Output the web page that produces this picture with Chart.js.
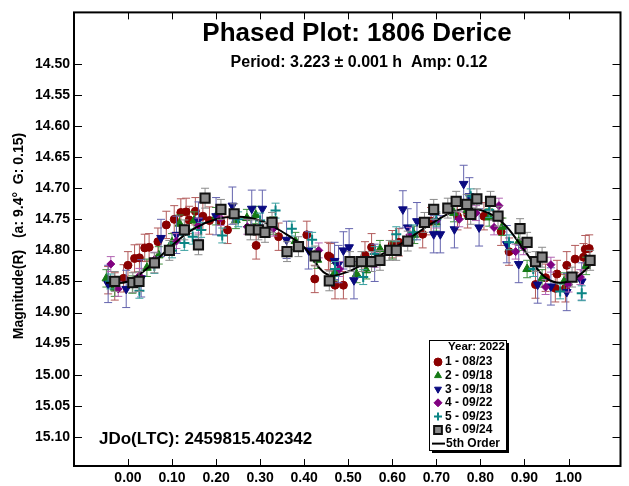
<!DOCTYPE html>
<html>
<head>
<meta charset="utf-8">
<script src="https://cdn.jsdelivr.net/npm/chart.js@4/dist/chart.umd.min.js"></script>
<style>
  html, body { margin: 0; padding: 0; background: #fff; }
  #wrap { width: 629px; height: 486px; }
</style>
</head>
<body>
<div id="wrap"><canvas id="phase"></canvas></div>
<script>
// night 1 - 08/23
const n1Phase = [-0.045, -0.030, -0.010, 0.000, 0.015, 0.026, 0.038, 0.048, 0.068, 0.087, 0.105, 0.120, 0.132, 0.139, 0.153, 0.170, 0.185, 0.211, 0.226, 0.291, 0.342, 0.406, 0.424, 0.455, 0.459, 0.470, 0.489, 0.538, 0.553, 0.600, 0.615, 0.669, 0.688, 0.748, 0.771, 0.808, 0.847, 0.865, 0.925, 0.948, 0.970, 0.974, 0.993, 0.996, 1.015, 1.034, 1.038, 1.047];
const n1Mag = [14.848, 14.858, 14.845, 14.824, 14.813, 14.812, 14.796, 14.795, 14.786, 14.759, 14.750, 14.739, 14.738, 14.751, 14.737, 14.745, 14.752, 14.754, 14.767, 14.792, 14.778, 14.775, 14.846, 14.809, 14.811, 14.856, 14.856, 14.808, 14.795, 14.790, 14.787, 14.774, 14.753, 14.745, 14.742, 14.745, 14.770, 14.802, 14.855, 14.844, 14.861, 14.838, 14.861, 14.824, 14.814, 14.811, 14.798, 14.797];
// night 2 - 09/18
const n2Phase = [-0.049, -0.030, 0.010, 0.043, 0.070, 0.100, 0.117, 0.150, 0.200, 0.245, 0.270, 0.290, 0.330, 0.380, 0.430, 0.470, 0.519, 0.541, 0.572, 0.600, 0.650, 0.700, 0.740, 0.770, 0.820, 0.850, 0.887, 0.906, 0.940, 0.990, 1.040];
const n2Mag = [14.845, 14.860, 14.855, 14.828, 14.808, 14.787, 14.757, 14.752, 14.745, 14.751, 14.748, 14.743, 14.760, 14.785, 14.815, 14.835, 14.838, 14.832, 14.798, 14.800, 14.775, 14.755, 14.740, 14.735, 14.747, 14.762, 14.786, 14.830, 14.845, 14.850, 14.825];
// night 3 - 09/18
const n3Phase = [-0.045, -0.004, 0.030, 0.075, 0.110, 0.160, 0.200, 0.237, 0.281, 0.305, 0.360, 0.410, 0.469, 0.478, 0.489, 0.502, 0.513, 0.560, 0.624, 0.635, 0.656, 0.694, 0.709, 0.741, 0.762, 0.775, 0.797, 0.860, 0.887, 0.930, 0.960, 0.996, 1.030];
const n3Mag = [14.854, 14.862, 14.845, 14.780, 14.775, 14.752, 14.745, 14.728, 14.733, 14.733, 14.783, 14.800, 14.817, 14.822, 14.800, 14.795, 14.848, 14.820, 14.734, 14.763, 14.753, 14.774, 14.774, 14.766, 14.693, 14.713, 14.763, 14.790, 14.822, 14.855, 14.858, 14.867, 14.850];
// night 4 - 09/22
const n4Phase = [-0.039, -0.022, 0.026, 0.060, 0.110, 0.160, 0.210, 0.271, 0.330, 0.433, 0.480, 0.560, 0.640, 0.700, 0.752, 0.790, 0.831, 0.842, 0.880, 0.898, 0.948, 0.960, 1.000, 1.027];
const n4Mag = [14.822, 14.862, 14.841, 14.815, 14.785, 14.760, 14.748, 14.762, 14.765, 14.800, 14.830, 14.815, 14.775, 14.752, 14.750, 14.740, 14.763, 14.728, 14.802, 14.795, 14.859, 14.823, 14.855, 14.843];
// night 5 - 09/23
const n5Phase = [-0.040, 0.026, 0.060, 0.100, 0.128, 0.147, 0.166, 0.214, 0.250, 0.300, 0.335, 0.372, 0.418, 0.470, 0.534, 0.560, 0.609, 0.647, 0.700, 0.778, 0.820, 0.865, 0.920, 0.981, 1.030];
const n5Mag = [14.850, 14.865, 14.825, 14.800, 14.788, 14.778, 14.767, 14.776, 14.750, 14.752, 14.736, 14.765, 14.783, 14.830, 14.843, 14.806, 14.774, 14.771, 14.750, 14.713, 14.735, 14.787, 14.830, 14.866, 14.869];
// night 6 - 09/24
const n6Phase = [-0.030, 0.011, 0.025, 0.060, 0.094, 0.128, 0.160, 0.175, 0.211, 0.241, 0.278, 0.296, 0.311, 0.327, 0.361, 0.387, 0.425, 0.457, 0.504, 0.530, 0.553, 0.572, 0.594, 0.609, 0.635, 0.673, 0.694, 0.726, 0.745, 0.769, 0.778, 0.792, 0.823, 0.840, 0.890, 0.906, 0.925, 0.940, 1.008, 1.049];
const n6Mag = [14.850, 14.852, 14.850, 14.820, 14.800, 14.767, 14.791, 14.716, 14.734, 14.741, 14.767, 14.767, 14.771, 14.755, 14.802, 14.794, 14.809, 14.849, 14.818, 14.818, 14.818, 14.816, 14.800, 14.800, 14.785, 14.755, 14.734, 14.732, 14.721, 14.726, 14.742, 14.717, 14.721, 14.745, 14.765, 14.787, 14.818, 14.811, 14.843, 14.816];
// typical error of one measurement per night (mag)
const nightErr = [0.022, 0.014, 0.030, 0.012, 0.012, 0.016];

// 5th order fourier fit
const fitPhase = [-0.05, 0.00, 0.05, 0.10, 0.15, 0.20, 0.25, 0.30, 0.35, 0.40, 0.45, 0.50, 0.55, 0.60, 0.65, 0.70, 0.75, 0.80, 0.85, 0.90, 0.95, 1.00, 1.05];
const fitMag = [14.852, 14.850, 14.825, 14.792, 14.765, 14.750, 14.746, 14.752, 14.770, 14.795, 14.838, 14.834, 14.815, 14.798, 14.775, 14.752, 14.735, 14.735, 14.755, 14.800, 14.845, 14.850, 14.825];

const xTicks = [0.00, 0.10, 0.20, 0.30, 0.40, 0.50, 0.60, 0.70, 0.80, 0.90, 1.00];
const yTicks = [14.50, 14.55, 14.60, 14.65, 14.70, 14.75, 14.80, 14.85, 14.90, 14.95, 15.00, 15.05, 15.10];
const nightLabels = ['1 - 08/23', '2 - 09/18', '3 - 09/18', '4 - 09/22', '5 - 09/23', '6 - 09/24'];

const FONT = '"Liberation Sans", Arial, sans-serif';

function pts(xs, ys) {
  return xs.map((x, i) => ({ x: x, y: ys[i] }));
}

const nights = [
  { phase: n1Phase, mag: n1Mag, style: 'circle', radius: 4, rot: 0, fill: '#8b0000', edge: '#8b0000', bar: '#b25a5a', order: 6 },
  { phase: n2Phase, mag: n2Mag, style: 'triangle', radius: 5, rot: 0, fill: '#157a15', edge: '#157a15', bar: '#3f8f3f', order: 5 },
  { phase: n3Phase, mag: n3Mag, style: 'triangle', radius: 5, rot: 180, fill: '#0a0a80', edge: '#0a0a80', bar: '#6464ae', order: 4 },
  { phase: n4Phase, mag: n4Mag, style: 'rectRot', radius: 4, rot: 0, fill: '#800080', edge: '#800080', bar: '#b264b2', order: 3 },
  { phase: n5Phase, mag: n5Mag, style: 'cross', radius: 5, rot: 0, fill: '#0b8585', edge: '#0b8585', bar: '#3aa0a0', order: 2 },
  { phase: n6Phase, mag: n6Mag, style: 'rect', radius: 6.5, rot: 0, fill: '#8a8a8a', edge: '#111111', bar: '#8c8c8c', order: 0 }
];

const datasets = nights.map((n, i) => ({
  type: 'scatter',
  label: nightLabels[i],
  data: pts(n.phase, n.mag),
  err: nightErr[i],
  barColor: n.bar,
  pointStyle: n.style,
  pointRadius: n.radius,
  pointRotation: n.rot,
  backgroundColor: n.fill,
  borderColor: n.edge,
  borderWidth: n.style === 'cross' ? 2 : (n.style === 'rect' ? 2 : 1),
  order: n.order
}));

datasets.push({
  type: 'line',
  label: '5th Order',
  data: pts(fitPhase, fitMag),
  borderColor: '#000',
  borderWidth: 2,
  pointRadius: 0,
  tension: 0.4,
  fill: false,
  order: 1
});

// vertical error bars, drawn right before each night's markers
const errorBars = {
  id: 'errorBars',
  beforeDatasetDraw(chart, args) {
    const ds = chart.data.datasets[args.index];
    if (!ds.err) return;
    const ctx = chart.ctx, y = chart.scales.y;
    ctx.save();
    ctx.strokeStyle = ds.barColor;
    ctx.lineWidth = 1;
    args.meta.data.forEach((el, i) => {
      const v = ds.data[i].y;
      const top = y.getPixelForValue(v - ds.err);
      const bot = y.getPixelForValue(v + ds.err);
      ctx.beginPath();
      ctx.moveTo(el.x, top); ctx.lineTo(el.x, bot);
      ctx.moveTo(el.x - 4, top); ctx.lineTo(el.x + 4, top);
      ctx.moveTo(el.x - 4, bot); ctx.lineTo(el.x + 4, bot);
      ctx.stroke();
    });
    ctx.restore();
  }
};

// frame with inward ticks on all four sides, plus the texts inside the plot
const frame = {
  id: 'frame',
  afterDraw(chart) {
    const ctx = chart.ctx, a = chart.chartArea;
    const xs = chart.scales.x, ys = chart.scales.y;
    ctx.save();
    ctx.strokeStyle = '#000';
    ctx.lineWidth = 1;
    ctx.beginPath();
    xTicks.forEach(t => {
      const px = Math.round(xs.getPixelForValue(t)) + 0.5;
      ctx.moveTo(px, a.bottom); ctx.lineTo(px, a.bottom - 7);
      ctx.moveTo(px, a.top); ctx.lineTo(px, a.top + 7);
    });
    yTicks.forEach(t => {
      const py = Math.round(ys.getPixelForValue(t)) + 0.5;
      ctx.moveTo(a.left, py); ctx.lineTo(a.left + 8, py);
      ctx.moveTo(a.right, py); ctx.lineTo(a.right - 8, py);
    });
    ctx.stroke();
    ctx.lineWidth = 2;
    ctx.strokeRect(a.left, a.top, a.right - a.left, a.bottom - a.top);

    ctx.fillStyle = '#000';
    ctx.textBaseline = 'middle';
    ctx.textAlign = 'center';
    ctx.font = 'bold 26px ' + FONT;
    ctx.fillText('Phased Plot: 1806 Derice', 357, 34);
    ctx.font = 'bold 16px ' + FONT;
    ctx.fillText('Period: 3.223 \u00b1 0.001 h  Amp: 0.12', 359, 63);
    ctx.textAlign = 'left';
    ctx.font = 'bold 17px ' + FONT;
    ctx.fillText('JDo(LTC): 2459815.402342', 99, 439);

    ctx.save();
    ctx.translate(19, 236);
    ctx.rotate(-Math.PI / 2);
    ctx.textAlign = 'center';
    ctx.font = 'bold 14px ' + FONT;
    ctx.fillText('Magnitude(R)   (a: 9.4\u00b0  G: 0.15)', 0, 0);
    ctx.restore();

    // legend box with drop shadow
    const bx = 429, by = 340, bw = 77, bh = 110;
    ctx.fillStyle = '#000';
    ctx.fillRect(bx + 3, by + 3, bw, bh);
    ctx.fillStyle = '#fff';
    ctx.fillRect(bx, by, bw, bh);
    ctx.lineWidth = 1;
    ctx.strokeRect(bx + 0.5, by + 0.5, bw, bh);

    ctx.fillStyle = '#000';
    ctx.font = 'bold 11.5px ' + FONT;
    ctx.fillText('Year: 2022', 448, 347);
    ctx.font = 'bold 12px ' + FONT;
    const rowY = i => 362 + i * 13.6;
    nights.forEach((n, i) => {
      const ds = chart.data.datasets[i];
      ctx.save();
      ctx.fillStyle = n.fill;
      ctx.strokeStyle = n.edge;
      ctx.lineWidth = ds.borderWidth;
      Chart.helpers.drawPoint(ctx, {
        pointStyle: n.style,
        rotation: n.rot,
        radius: n.style === 'rect' ? 5.5 : 4,
        borderWidth: ds.borderWidth
      }, 438, rowY(i));
      ctx.restore();
      ctx.fillStyle = '#000';
      ctx.fillText(nightLabels[i], 445, rowY(i));
    });
    ctx.lineWidth = 2;
    ctx.beginPath();
    ctx.moveTo(432, rowY(6)); ctx.lineTo(445, rowY(6));
    ctx.stroke();
    ctx.fillText('5th Order', 446, rowY(6));
    ctx.restore();
  }
};

new Chart(document.getElementById('phase'), {
  data: { datasets: datasets },
  options: {
    responsive: true,
    maintainAspectRatio: false,
    animation: false,
    layout: { padding: { left: 0, right: 5, top: 7, bottom: 0 } },
    plugins: { legend: { display: false }, tooltip: { enabled: false } },
    scales: {
      x: {
        type: 'linear',
        min: -0.1225,
        max: 1.118,
        afterBuildTicks: s => { s.ticks = xTicks.map(v => ({ value: v })); },
        afterFit: s => { s.height = 20; },
        grid: { display: false, drawTicks: false },
        border: { display: false },
        ticks: {
          padding: 4,
          color: '#000',
          font: { family: FONT, size: 14, weight: 'bold' },
          callback: v => v.toFixed(2)
        }
      },
      y: {
        type: 'linear',
        reverse: true,
        min: 14.417,
        max: 15.147,
        afterBuildTicks: s => { s.ticks = yTicks.map(v => ({ value: v })); },
        afterFit: s => { s.width = 74; },
        grid: { display: false, drawTicks: false },
        border: { display: false },
        ticks: {
          padding: 4,
          color: '#000',
          font: { family: FONT, size: 14, weight: 'bold' },
          callback: v => v.toFixed(2)
        }
      }
    }
  },
  plugins: [errorBars, frame]
});
</script>
</body>
</html>
